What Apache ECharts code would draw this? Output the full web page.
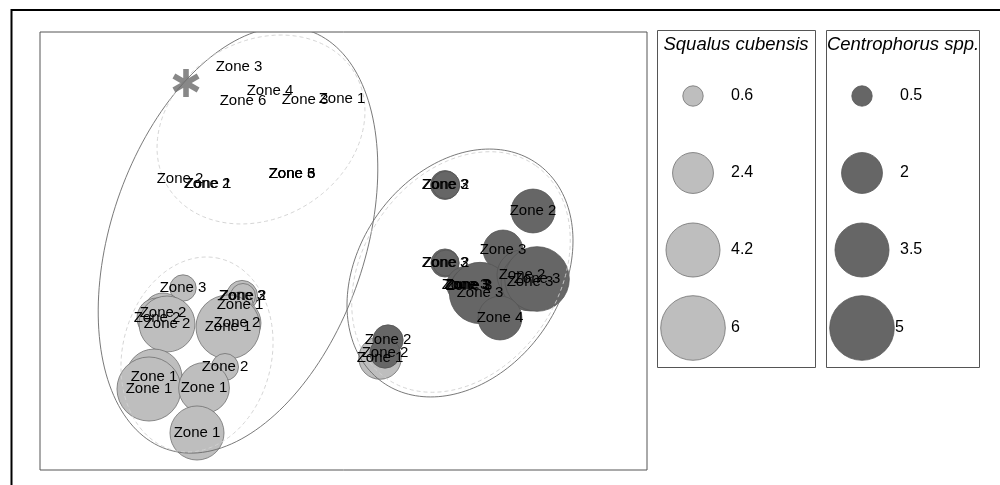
<!DOCTYPE html>
<html>
<head>
<meta charset="utf-8">
<script src="https://cdn.jsdelivr.net/npm/echarts@6/dist/echarts.min.js"></script>
<style>
html,body{margin:0;padding:0;background:#fff;}
#chart{width:1000px;height:485px;}
</style>
</head>
<body>
<div id="chart"></div>
<script>
// ---- data (MDS coordinates, hidden axes) ----
const xs = [1.99, 2.30, 2.03, 2.65, 3.02, 1.40, 1.67, 1.68, 2.52, 2.52, 2.52,
  1.43, 2.02, 2.03, 2.00, 1.23, 1.17, 1.27, 1.97, 1.88, 1.85, 1.14, 1.09, 1.64, 1.57,
  4.05, 4.06, 4.93, 4.63, 4.05, 4.06, 4.25, 4.27, 4.29, 4.28, 4.40, 4.82, 4.90, 4.97, 4.60,
  3.48, 3.45, 3.40];
const ys = [4.03, 3.79, 3.69, 3.70, 3.71, 2.91, 2.86, 2.86, 2.96, 2.96, 2.96,
  1.82, 1.74, 1.74, 1.65, 1.57, 1.52, 1.46, 1.47, 1.43, 1.03, 0.93, 0.81, 0.82, 0.37,
  2.85, 2.85, 2.59, 2.20, 2.07, 2.07, 1.85, 1.85, 1.84, 1.85, 1.77, 1.95, 1.88, 1.91, 1.52,
  1.30, 1.17, 1.12];
const zones = ['Zone 3','Zone 4','Zone 6','Zone 3','Zone 1','Zone 2','Zone 2','Zone 1','Zone 5','Zone 6','Zone 3',
  'Zone 3','Zone 3','Zone 2','Zone 1','Zone 2','Zone 2','Zone 2','Zone 2','Zone 1','Zone 2','Zone 1','Zone 1','Zone 1','Zone 1',
  'Zone 3','Zone 2','Zone 2','Zone 3','Zone 3','Zone 2','Zone 3','Zone 3','Zone 3','Zone 2','Zone 3','Zone 2','Zone 3','Zone 3','Zone 4',
  'Zone 2','Zone 2','Zone 1'];
const squalus = [0,0,0,0,0,0,0,0,0,0,0,
  1.0,1.4,0.9,1.0,2.3,2.3,4.5,3.3,5.9,1.05,4.5,5.9,3.7,4.2,
  0,0,0,0,0,0,0,0,0,0,0,0,0,0,0,
  0,0,2.6];
const centro = [0,0,0,0,0,0,0,0,0,0,0,
  0,0,0,0,0,0,0,0,0,0,0,0,0,0,
  1.0,0.9,2.3,1.9,0.95,0.8,1.6,1.2,0.8,1.0,4.5,3.0,4.0,5.0,2.3,
  1.1,1.1,0];
// ellipses: [cx, cy, semi-major, semi-minor, angle deg]
const solidEllipses = [[1.98, 2.30, 2.21, 1.27, 71.15], [4.20, 1.97, 1.339, 1.01, 54.8]];
const dashedEllipses = [[2.21, 3.405, 1.094, 0.881, 31.7], [1.57, 1.155, 0.986, 0.746, 76.8], [4.21, 1.98, 1.30, 0.975, 55]];
const asterisk = [[1.46, 3.87]];
// legend
const legendSqualus = [0.6, 2.4, 4.2, 6];
const legendCentro = [0.5, 2, 3.5, 5];
const titleSqualus = 'Squalus cubensis';
const titleCentro = 'Centrophorus spp.';

const MAXR = 32.3;
const kS = MAXR / Math.sqrt(6);
const kC = MAXR / Math.sqrt(5);
const LIGHT = '#bebebe', DARK = '#666666';
const FONT = '"Liberation Sans", Arial, Helvetica, sans-serif';

const sqData = [], ceData = [], lblData = [];
for (let i = 0; i < xs.length; i++) {
  if (squalus[i] > 0) sqData.push([xs[i], ys[i], squalus[i]]);
  if (centro[i] > 0) ceData.push([xs[i], ys[i], centro[i]]);
  lblData.push({value: [xs[i], ys[i]], name: zones[i]});
}

function ellipseItem(color, dash, width) {
  return function (params, api) {
    const cx = api.value(0), cy = api.value(1), a = api.value(2), b = api.value(3);
    const th = api.value(4) * Math.PI / 180;
    const pts = [];
    for (let k = 0; k < 180; k++) {
      const t = k / 180 * Math.PI * 2;
      const x = cx + a * Math.cos(t) * Math.cos(th) - b * Math.sin(t) * Math.sin(th);
      const y = cy + a * Math.cos(t) * Math.sin(th) + b * Math.sin(t) * Math.cos(th);
      pts.push(api.coord([x, y]));
    }
    return {type: 'polygon', shape: {points: pts},
      style: {fill: 'none', stroke: color, lineWidth: width, lineDash: dash}};
  };
}

const graphics = [
  {type: 'rect', shape: {x: 11.5, y: 10, width: 1100, height: 600},
   style: {fill: 'none', stroke: '#000', lineWidth: 2}, silent: true},
  {type: 'rect', shape: {x: 657.5, y: 30.5, width: 158, height: 337},
   style: {fill: 'none', stroke: '#555', lineWidth: 1}},
  {type: 'rect', shape: {x: 826.5, y: 30.5, width: 153, height: 337},
   style: {fill: 'none', stroke: '#555', lineWidth: 1}},
  {type: 'text', x: 736, y: 45, style: {text: titleSqualus, font: 'italic 18.5px ' + FONT, fill: '#000',
    align: 'center', verticalAlign: 'middle', textAlign: 'center', textVerticalAlign: 'middle'}},
  {type: 'text', x: 903, y: 45, style: {text: titleCentro, font: 'italic 18.5px ' + FONT, fill: '#000',
    align: 'center', verticalAlign: 'middle', textAlign: 'center', textVerticalAlign: 'middle'}}
];
const legYs = [96, 173, 250, 328];
legendSqualus.forEach((v, i) => {
  graphics.push({type: 'circle', shape: {cx: 693, cy: legYs[i], r: kS * Math.sqrt(v)},
    style: {fill: LIGHT, stroke: '#707070', lineWidth: 0.8}});
  graphics.push({type: 'text', x: 731, y: legYs[i], style: {text: String(v), font: '16px ' + FONT, fill: '#000',
    align: 'left', verticalAlign: 'middle', textAlign: 'left', textVerticalAlign: 'middle'}});
});
legendCentro.forEach((v, i) => {
  graphics.push({type: 'circle', shape: {cx: 862, cy: legYs[i], r: kC * Math.sqrt(v)},
    style: {fill: DARK, stroke: '#555', lineWidth: 0.8}});
  graphics.push({type: 'text', x: i === 3 ? 895 : 900, y: legYs[i], style: {text: String(v), font: '16px ' + FONT, fill: '#000',
    align: 'left', verticalAlign: 'middle', textAlign: 'left', textVerticalAlign: 'middle'}});
});

const chart = echarts.init(document.getElementById('chart'), null, {renderer: 'canvas'});
chart.setOption({
  animation: false,
  backgroundColor: '#fff',
  grid: {left: 40, top: 32, width: 607, height: 438, show: true, borderColor: '#555', borderWidth: 1, backgroundColor: 'transparent'},
  xAxis: {type: 'value', min: 0, max: 6.07, show: false},
  yAxis: {type: 'value', min: 0, max: 4.38, show: false},
  graphic: graphics,
  series: [
    {type: 'scatter', data: sqData, symbol: 'circle',
     symbolSize: v => 2 * kS * Math.sqrt(v[2]),
     itemStyle: {color: LIGHT, borderColor: '#707070', borderWidth: 0.8, opacity: 1}, z: 2, silent: true},
    {type: 'scatter', data: ceData, symbol: 'circle',
     symbolSize: v => 2 * kC * Math.sqrt(v[2]),
     itemStyle: {color: DARK, borderColor: '#555', borderWidth: 0.8, opacity: 1}, z: 3, silent: true},
    {type: 'custom', data: solidEllipses, renderItem: ellipseItem('#6a6a6a', null, 0.9), clip: true, z: 4, silent: true},
    {type: 'custom', data: dashedEllipses, renderItem: ellipseItem('#d0d0d0', [4, 3], 0.9), clip: true, z: 4, silent: true},
    {type: 'scatter', data: asterisk,
     symbol: 'path://M-0.1,-0.5L0.1,-0.5L0.1,0.5L-0.1,0.5Z M0.383,-0.337L0.483,-0.163L-0.383,0.337L-0.483,0.163Z M-0.483,-0.163L-0.383,-0.337L0.483,0.163L0.383,0.337Z',
     symbolSize: [27, 28], itemStyle: {color: '#6a6a6a'}, z: 5, silent: true},
    {type: 'custom', data: lblData, z: 6, silent: true,
     renderItem: function (params, api) {
       const p = api.coord([api.value(0), api.value(1)]);
       return {type: 'text', x: p[0], y: p[1],
         style: {text: lblData[params.dataIndex].name, font: '15px ' + FONT, fill: '#000',
           align: 'center', verticalAlign: 'middle', textAlign: 'center', textVerticalAlign: 'middle'}};
     }}
  ]
});
</script>
</body>
</html>
